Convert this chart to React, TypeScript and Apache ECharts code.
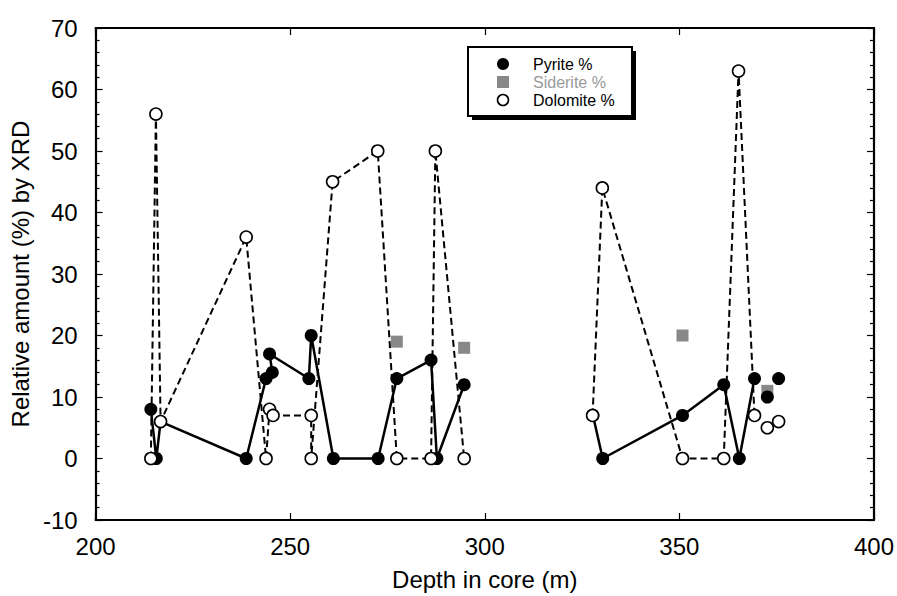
import React, { useEffect, useRef } from "react";
import * as echarts from "echarts";

// ---- Data ----
const pyriteSeg1Depth = [214.2, 215.6, 216.7, 238.7, 243.8, 245.4, 244.7, 254.8, 255.4, 261.1, 272.6, 277.4, 286.2, 287.7, 294.7];
const pyriteSeg1 = [8, 0, 6, 0, 13, 14, 17, 13, 20, 0, 0, 13, 16, 0, 12];
const pyriteSeg2Depth = [327.8, 330.3, 350.8, 361.4, 365.4, 369.3];
const pyriteSeg2 = [7, 0, 7, 12, 0, 13];
const pyriteLooseDepth = [372.6, 375.5];
const pyriteLoose = [10, 13];

const dolomiteSeg1Depth = [214.2, 215.5, 216.7, 238.7, 243.8, 244.7, 245.6, 255.4, 255.4, 260.9, 272.5, 277.4, 286.2, 287.3, 294.7];
const dolomiteSeg1 = [0, 56, 6, 36, 0, 8, 7, 7, 0, 45, 50, 0, 0, 50, 0];
const dolomiteSeg2Depth = [327.7, 330.2, 350.8, 361.4, 365.2, 369.3];
const dolomiteSeg2 = [7, 44, 0, 0, 63, 7];
const dolomiteLooseDepth = [372.6, 375.5];
const dolomiteLoose = [5, 6];

const sideriteDepth = [277.4, 294.7, 350.8, 372.6];
const siderite = [19, 18, 20, 11];

const legendNames = ["Pyrite %", "Siderite %", "Dolomite %"];

const pairs = (xs: number[], ys: number[]) => xs.map((x, i) => [x, ys[i]]);

const FONT = "'Liberation Sans', Arial, Helvetica, sans-serif";

export default function App() {
  const ref = useRef<HTMLDivElement>(null);
  useEffect(() => {
    document.body.style.margin = "0";
    const chart = echarts.init(ref.current!, null, { renderer: "svg" });

    const pyriteItem = { color: "#000", opacity: 1 };
    const dolomiteItem = { color: "#fff", borderColor: "#000", borderWidth: 1.6, opacity: 1 };
    const pyriteStyle = {
      symbol: "circle",
      symbolSize: 13,
      itemStyle: pyriteItem,
      lineStyle: { color: "#000", width: 2.5 },
    };
    const dolomiteStyle = {
      symbol: "circle",
      symbolSize: 12,
      itemStyle: dolomiteItem,
      lineStyle: { color: "#000", width: 2, type: [7, 4] as any },
    };

    const lx = 468, ly = 47, lw = 164, lh = 69;

    const axisLine = { show: true, onZero: false, lineStyle: { color: "#000", width: 2.2 } };
    const axisTick = { show: true, inside: true, length: 7, lineStyle: { color: "#000", width: 1.2 } };
    const minorTick = { show: true, splitNumber: 5, length: 4, lineStyle: { color: "#000", width: 1.2 } };
    const labelStyle = { fontSize: 24, color: "#000", fontFamily: FONT };

    chart.setOption({
      animation: false,
      backgroundColor: "#fff",
      textStyle: { fontFamily: FONT },
      grid: { left: 94, right: 23, top: 28, bottom: 75 },
      xAxis: [
        {
          type: "value",
          position: "bottom",
          min: 200,
          max: 400,
          interval: 50,
          name: "Depth in core (m)",
          nameLocation: "middle",
          nameGap: 47,
          nameTextStyle: labelStyle,
          axisLine,
          axisTick,
          axisLabel: { ...labelStyle, margin: 14 },
          splitLine: { show: false },
        },
        {
          type: "value",
          position: "top",
          min: 200,
          max: 400,
          interval: 50,
          axisLine,
          axisTick,
          axisLabel: { show: false },
          splitLine: { show: false },
        },
      ],
      yAxis: [
        {
          type: "value",
          position: "left",
          min: -10,
          max: 70,
          interval: 10,
          name: "Relative amount (%) by XRD",
          nameLocation: "middle",
          nameGap: 57,
          nameTextStyle: labelStyle,
          axisLine,
          axisTick,
          minorTick,
          axisLabel: { ...labelStyle, margin: 18 },
          splitLine: { show: false },
        },
        {
          type: "value",
          position: "right",
          min: -10,
          max: 70,
          interval: 10,
          axisLine,
          axisTick,
          minorTick,
          axisLabel: { show: false },
          splitLine: { show: false },
        },
      ],
      series: [
        { name: "Siderite %", type: "scatter", data: pairs(sideriteDepth, siderite), z: 1, symbol: "rect", symbolSize: 12, itemStyle: { color: "#888", opacity: 1 } },
        { name: "Pyrite %", type: "line", data: pairs(pyriteSeg1Depth, pyriteSeg1), z: 2, ...pyriteStyle },
        { name: "Pyrite % (b)", type: "line", data: pairs(pyriteSeg2Depth, pyriteSeg2), z: 2, ...pyriteStyle },
        { name: "Pyrite % (c)", type: "scatter", data: pairs(pyriteLooseDepth, pyriteLoose), z: 2, symbol: "circle", symbolSize: 13, itemStyle: pyriteItem },
        { name: "Dolomite %", type: "line", data: pairs(dolomiteSeg1Depth, dolomiteSeg1), z: 3, ...dolomiteStyle },
        { name: "Dolomite % (b)", type: "line", data: pairs(dolomiteSeg2Depth, dolomiteSeg2), z: 3, ...dolomiteStyle },
        { name: "Dolomite % (c)", type: "scatter", data: pairs(dolomiteLooseDepth, dolomiteLoose), z: 3, symbol: "circle", symbolSize: 12, itemStyle: dolomiteItem },
      ],
      graphic: [
        { type: "rect", shape: { x: lx + 4, y: ly + 4, width: lw, height: lh }, style: { fill: "#000" }, z: 10 },
        { type: "rect", shape: { x: lx, y: ly, width: lw, height: lh }, style: { fill: "#fff", stroke: "#000", lineWidth: 2 }, z: 11 },
        { type: "circle", shape: { cx: 503, cy: 64, r: 6 }, style: { fill: "#000" }, z: 12 },
        { type: "rect", shape: { x: 497, y: 76, width: 12, height: 12 }, style: { fill: "#888" }, z: 12 },
        { type: "circle", shape: { cx: 503, cy: 100, r: 5.5 }, style: { fill: "#fff", stroke: "#000", lineWidth: 1.6 }, z: 12 },
        { type: "text", x: 533, y: 64, style: { text: legendNames[0], fill: "#000", font: `16px ${FONT}`, verticalAlign: "middle" }, z: 12 },
        { type: "text", x: 533, y: 82, style: { text: legendNames[1], fill: "#999", font: `16px ${FONT}`, verticalAlign: "middle" }, z: 12 },
        { type: "text", x: 533, y: 100, style: { text: legendNames[2], fill: "#000", font: `16px ${FONT}`, verticalAlign: "middle" }, z: 12 },
      ],
    });
    return () => chart.dispose();
  }, []);
  return <div ref={ref} style={{ width: 897, height: 596 }} />;
}
